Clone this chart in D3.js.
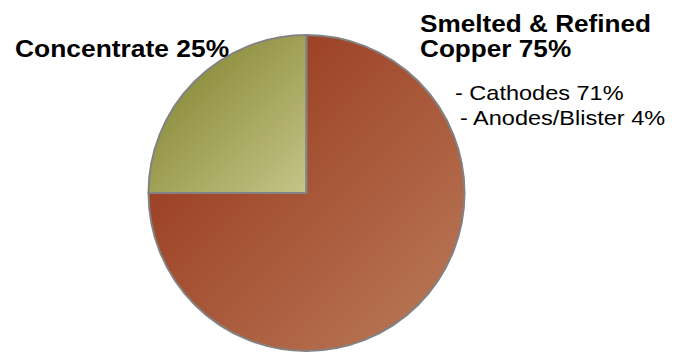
<!DOCTYPE html>
<html>
<head>
<meta charset="utf-8">
<script src="https://cdn.jsdelivr.net/npm/d3@7"></script>
<style>
  html, body { margin: 0; padding: 0; background: #fff; }
  text { font-family: "Liberation Sans", Arial, sans-serif; fill: #000; }
</style>
</head>
<body>
<div id="viz"></div>
<script>
const width = 683;
const height = 352;

// chart data
const categories = ['Concentrate', 'Smelted & Refined Copper'];
const values = [25, 75];
const subLabels = ['Cathodes', 'Anodes/Blister'];
const subValues = [71, 4];

const cx = 306.5;
const cy = 193;
const radius = 158;

// gradient colours for each slice (dark -> light)
const sliceColors = [
  ['#86872f', '#8e8f3f', '#c5c588'],
  ['#9a3e21', '#9d4226', '#bb7c5a'],
];

const svg = d3
  .select('#viz')
  .append('svg')
  .attr('width', width)
  .attr('height', height);

const defs = svg.append('defs');
sliceColors.forEach((c, i) => {
  const g = defs
    .append('linearGradient')
    .attr('id', 'grad' + i)
    .attr('x1', 0)
    .attr('y1', 0)
    .attr('x2', 1)
    .attr('y2', 1);
  g.append('stop').attr('offset', 0).attr('stop-color', c[0]);
  g.append('stop').attr('offset', 0.25).attr('stop-color', c[1]);
  g.append('stop').attr('offset', 1).attr('stop-color', c[2]);
});

const pie = d3
  .pie()
  .sort(null)
  .startAngle(-Math.PI / 2)
  .endAngle((3 * Math.PI) / 2);

const arc = d3.arc().innerRadius(0).outerRadius(radius);

svg
  .append('g')
  .attr('transform', `translate(${cx},${cy})`)
  .selectAll('path')
  .data(pie(values))
  .join('path')
  .attr('d', arc)
  .attr('fill', (d, i) => `url(#grad${i})`)
  .attr('stroke', '#828282')
  .attr('stroke-width', 2)
  .attr('stroke-linejoin', 'round');

// labels (text is stretched horizontally a little like the original)
function label(str, x, y, size, weight, sx) {
  svg
    .append('text')
    .attr('transform', `translate(${x},${y}) scale(${sx},1)`)
    .style('font-size', size + 'px')
    .style('font-weight', weight)
    .text(str);
}

label(`${categories[0]} ${values[0]}%`, 15, 57, 24, 'bold', 1.1);

const words = categories[1].split(' ');
label(words.slice(0, 3).join(' '), 420, 32, 24, 'bold', 1.09);
label(`${words[3]} ${values[1]}%`, 420, 57, 24, 'bold', 1.09);

label(`- ${subLabels[0]} ${subValues[0]}%`, 455, 100, 21, 'normal', 1.12);
label(`- ${subLabels[1]} ${subValues[1]}%`, 460, 125, 21, 'normal', 1.12);
</script>
</body>
</html>
